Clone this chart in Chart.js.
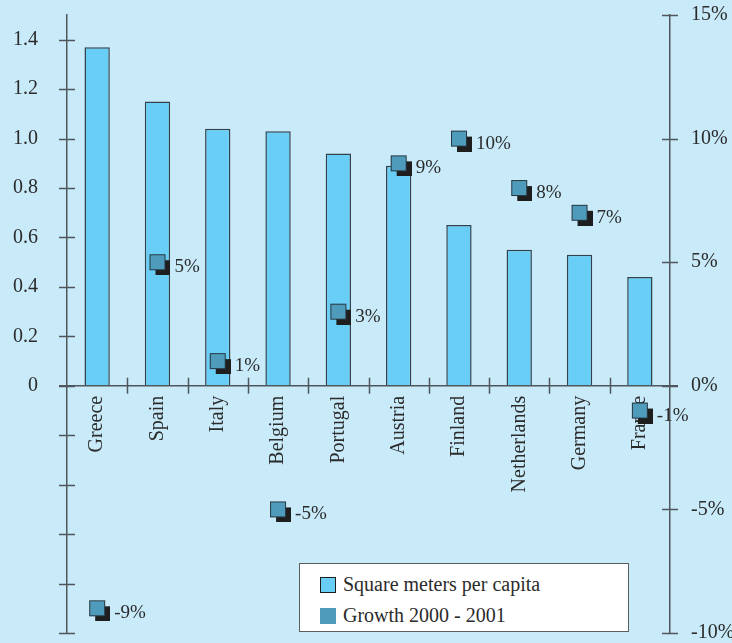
<!DOCTYPE html>
<html>
<head>
<meta charset="utf-8">
<script src="https://cdn.jsdelivr.net/npm/chart.js@4/dist/chart.umd.min.js"></script>
<style>
  html, body { margin: 0; padding: 0; background: #c8eaf9; }
  #wrap { position: relative; width: 732px; height: 643px; }
  #legend {
    position: absolute; left: 299px; top: 563px; width: 328px; height: 67px;
    background: #ffffff; border: 1.5px solid #5a5f63;
    font: 20px "Liberation Serif", "Times New Roman", serif; color: #2b2b2b;
  }
  #legend .item { position: absolute; left: 20px; height: 20px; line-height: 20px; white-space: nowrap; }
  #legend .swatch { display: inline-block; width: 16px; height: 16px; vertical-align: -2px; margin-right: 7px; box-sizing: border-box; }
</style>
</head>
<body>
<div id="wrap">
  <canvas id="chart" width="732" height="643"></canvas>
  <div id="legend"></div>
</div>
<script>
const countries = ["Greece", "Spain", "Italy", "Belgium", "Portugal", "Austria", "Finland", "Netherlands", "Germany", "France"];
const squareMeters = [1.37, 1.15, 1.04, 1.03, 0.94, 0.89, 0.65, 0.55, 0.53, 0.44];
const growth = [-9, 5, 1, -5, 3, 9, 10, 8, 7, -1];
const leftTicks = [-1.0, -0.8, -0.6, -0.4, -0.2, 0, 0.2, 0.4, 0.6, 0.8, 1.0, 1.2, 1.4];
const rightTicks = [-10, -5, 0, 5, 10, 15];

const BG = "#c8eaf9";
const BAR = "#69cef5";
const MARK = "#4e9bbb";
const AXIS = "#50575c";
const TEXT = "#2b2b2b";
const FONT = "'Liberation Serif', 'Times New Roman', serif";

// blue square with a black drop shadow, centred on the blue square
const makeMarker = () => {
  const c = document.createElement("canvas");
  c.width = 26;
  c.height = 26;
  const g = c.getContext("2d");
  g.fillStyle = "#1e1e1e";
  g.fillRect(11, 11, 15, 15);
  g.fillStyle = MARK;
  g.fillRect(5.5, 5.5, 15, 15);
  g.strokeStyle = "#263640";
  g.lineWidth = 1;
  g.strokeRect(5.5, 5.5, 15, 15);
  return c;
};

// axis ticks that cross the axis line on both sides
const crossTicks = {
  id: "crossTicks",
  afterDraw: (chart) => {
    const { ctx, scales } = chart;
    const x = scales.x, y = scales.y, y2 = scales.y2;
    const zero = y.getPixelForValue(0);
    ctx.save();
    ctx.strokeStyle = AXIS;
    ctx.lineWidth = 1.5;
    ctx.beginPath();
    y.ticks.forEach((t) => {
      const p = Math.round(y.getPixelForValue(t.value)) + 0.5;
      ctx.moveTo(y.right - 8, p);
      ctx.lineTo(y.right + 8, p);
    });
    y2.ticks.forEach((t) => {
      const p = Math.round(y2.getPixelForValue(t.value)) + 0.5;
      ctx.moveTo(y2.left - 8, p);
      ctx.lineTo(y2.left + 8, p);
    });
    const w = (x.right - x.left) / countries.length;
    for (let i = 1; i < countries.length; i++) {
      const p = Math.round(x.left + i * w) + 0.5;
      ctx.moveTo(p, zero - 8);
      ctx.lineTo(p, zero + 8);
    }
    ctx.moveTo(x.left - 8, zero);
    ctx.lineTo(x.right + 8, zero);
    ctx.stroke();
    ctx.restore();
  },
};

// "n%" next to each growth marker
const growthLabels = {
  id: "growthLabels",
  afterDatasetsDraw: (chart) => {
    const meta = chart.getDatasetMeta(0);
    const ctx = chart.ctx;
    ctx.save();
    ctx.font = "19px " + FONT;
    ctx.fillStyle = TEXT;
    ctx.textAlign = "left";
    ctx.textBaseline = "middle";
    meta.data.forEach((pt, i) => {
      ctx.fillText(growth[i] + "%", pt.x + 17, pt.y + 5);
    });
    ctx.restore();
  },
};

const background = {
  id: "background",
  beforeDraw: (chart) => {
    const ctx = chart.ctx;
    ctx.save();
    ctx.fillStyle = BG;
    ctx.fillRect(0, 0, chart.width, chart.height);
    ctx.restore();
  },
};

// no extra room for half tick labels at the ends of the axes
const noEndPadding = (s) => {
  s.paddingTop = 0;
  s.paddingBottom = 0;
  s.paddingLeft = 0;
  s.paddingRight = 0;
};

Chart.defaults.font.family = FONT;
Chart.defaults.font.size = 20;
Chart.defaults.color = TEXT;

const chart = new Chart(document.getElementById("chart"), {
  type: "bar",
  data: {
    labels: countries,
    datasets: [
      {
        type: "line",
        label: "Growth 2000 - 2001",
        data: growth,
        yAxisID: "y2",
        showLine: false,
        pointStyle: makeMarker(),
        pointRadius: 13,
        backgroundColor: MARK,
        clip: false,
        order: 0,
      },
      {
        label: "Square meters per capita",
        data: squareMeters,
        yAxisID: "y",
        backgroundColor: BAR,
        borderColor: "#33424c",
        borderWidth: 1.5,
        categoryPercentage: 1,
        barPercentage: 0.42,
        order: 1,
      },
    ],
  },
  options: {
    responsive: false,
    animation: false,
    layout: { autoPadding: false, padding: { top: 15, bottom: 10, left: 0, right: 0 } },
    plugins: { legend: { display: false }, tooltip: { enabled: false } },
    scales: {
      x: {
        position: { y: 0 },
        grid: { display: false, drawTicks: false },
        border: { display: false },
        afterFit: noEndPadding,
        ticks: { minRotation: 90, maxRotation: 90, padding: 10, font: { size: 20 } },
      },
      y: {
        position: "left",
        min: -1,
        max: 1.5,
        afterBuildTicks: (s) => {
          s.ticks = leftTicks.map((v) => ({ value: v }));
        },
        afterFit: (s) => {
          s.width = 67;
          noEndPadding(s);
        },
        grid: { display: false, drawTicks: false },
        border: { display: true, color: AXIS, width: 1.5 },
        ticks: {
          padding: 29,
          callback: (v) => (v < 0 ? "" : v === 0 ? "0" : v.toFixed(1)),
        },
      },
      y2: {
        position: "right",
        min: -10,
        max: 15,
        afterBuildTicks: (s) => {
          s.ticks = rightTicks.map((v) => ({ value: v }));
        },
        afterFit: (s) => {
          s.width = 62;
          noEndPadding(s);
        },
        grid: { display: false, drawTicks: false },
        border: { display: true, color: AXIS, width: 1.5 },
        ticks: {
          padding: 21,
          callback: (v) => v + "%",
        },
      },
    },
  },
  plugins: [background, crossTicks, growthLabels],
});

// legend box, built from the chart's datasets
const legend = document.getElementById("legend");
const bars = chart.data.datasets[1], marks = chart.data.datasets[0];
[
  { ds: bars, style: "background:" + BAR + ";border:1.5px solid #1e1e1e;" },
  { ds: marks, style: "background:" + MARK + ";" },
].forEach((it, i) => {
  const row = document.createElement("div");
  row.className = "item";
  row.style.top = 10 + i * 31 + "px";
  row.innerHTML = '<span class="swatch" style="' + it.style + '"></span>' + it.ds.label;
  legend.appendChild(row);
});
</script>
</body>
</html>
